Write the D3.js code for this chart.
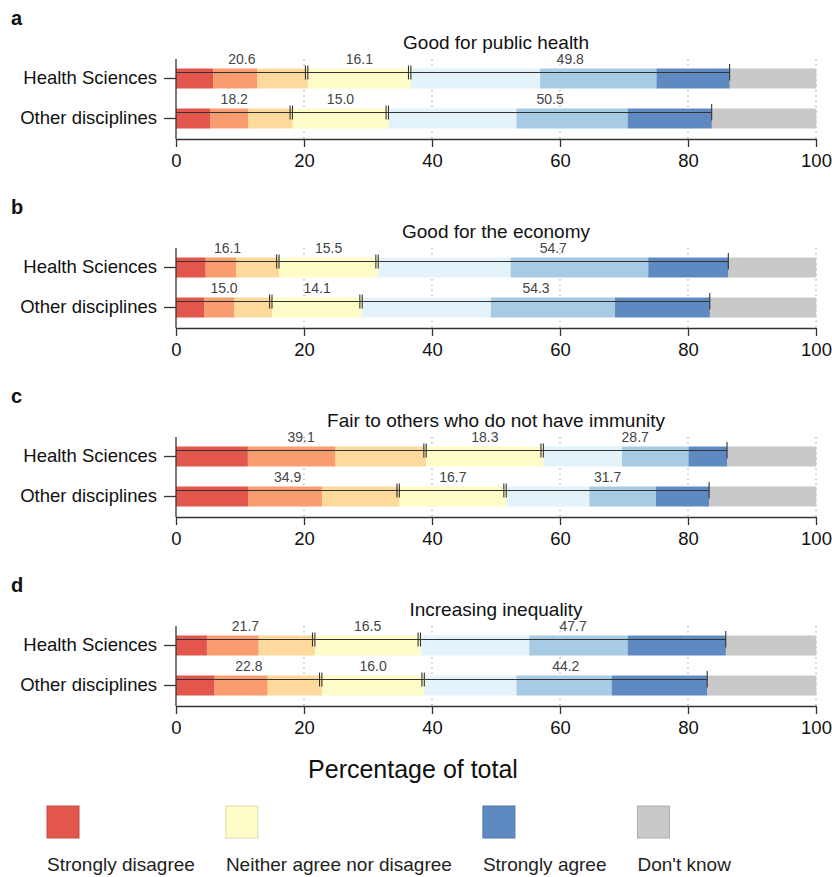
<!DOCTYPE html>
<html>
<head>
<meta charset="utf-8">
<script src="https://cdn.jsdelivr.net/npm/d3@7"></script>
<style>
  body { margin: 0; background: #fff; }
  svg { font-family: "Liberation Sans", Arial, sans-serif; }
</style>
</head>
<body>
<div id="chart"></div>
<script>
// survey answers, percent of respondents
var groups = ["Health Sciences", "Other disciplines"];
var letters = ["a", "b", "c", "d"];
var titles = ["Good for public health", "Good for the economy",
              "Fair to others who do not have immunity", "Increasing inequality"];
var answers = ["Strongly disagree", "Disagree", "Somewhat disagree", "Neither agree nor disagree",
               "Somewhat agree", "Agree", "Strongly agree", "Don't know"];
var colours = ["#e2564c", "#f99d70", "#fdd99b", "#fefcc8", "#e4f2f9", "#a7cbe2", "#5e89c1", "#c9c9c9"];

// one row per group: the 8 answers in order
var publicHealth = [[5.8, 6.9, 7.9, 16.1, 20.2, 18.2, 11.4, 13.5],
                    [5.3, 6.0, 6.9, 15.0, 20.0, 17.4, 13.1, 16.3]];
var economy      = [[4.6, 4.8, 6.7, 15.5, 20.7, 21.5, 12.5, 13.7],
                    [4.4, 4.7, 5.9, 14.1, 20.1, 19.4, 14.8, 16.6]];
var fairness     = [[11.2, 13.7, 14.2, 18.3, 12.3, 10.4, 6.0, 13.9],
                    [11.3, 11.5, 12.1, 16.7, 13.0, 10.4, 8.3, 16.7]];
var inequality   = [[4.8, 8.1, 8.8, 16.5, 17.0, 15.4, 15.3, 14.1],
                    [6.0, 8.3, 8.5, 16.0, 14.4, 14.9, 14.9, 17.0]];
var panelData = [publicHealth, economy, fairness, inequality];

var xTicks = [0, 20, 40, 60, 80, 100];
var legendKeys = ["Strongly disagree", "Neither agree nor disagree", "Strongly agree", "Don't know"];

var w = 832, h = 877;
var panelStep = 189;
var ink = "#333";

var svg = d3.select("#chart").append("svg")
   .attr("width", w)
   .attr("height", h);

var x = d3.scaleLinear().domain([0, 100]).range([176, 816]);
var y = d3.scaleBand().domain(groups).range([58.5, 138.5]).paddingInner(0.5).paddingOuter(0.25);

function r1(v) { return Math.round(v * 10) / 10; }

panelData.forEach(function(rows, p) {
  var g = svg.append("g").attr("transform", "translate(0," + (p * panelStep) + ")");

  g.append("text")
    .attr("x", 11).attr("y", 25)
    .attr("font-size", "20px").attr("font-weight", "bold").attr("fill", "#111")
    .text(letters[p]);

  g.append("text")
    .attr("x", x(50)).attr("y", 48.5)
    .attr("text-anchor", "middle").attr("font-size", "19px").attr("fill", "#111")
    .text(titles[p]);

  // dotted grid
  g.selectAll("line.grid")
    .data(xTicks.slice(1))
    .enter().append("line")
    .attr("class", "grid")
    .attr("x1", function(d) { return x(d); })
    .attr("x2", function(d) { return x(d); })
    .attr("y1", 59).attr("y2", 139)
    .attr("stroke", "#9a9a9a").attr("stroke-width", 1.2)
    .attr("stroke-dasharray", "1.2,4");

  rows.forEach(function(vals, gi) {
    var ends = d3.cumsum(vals);
    var segs = vals.map(function(v, i) { return { start: ends[i] - v, end: ends[i], i: i }; });
    var top = y(groups[gi]);
    var bw = y.bandwidth();

    g.selectAll("rect.s" + gi)
      .data(segs)
      .enter().append("rect")
      .attr("class", "s" + gi)
      .attr("x", function(d) { return x(d.start); })
      .attr("y", top)
      .attr("width", function(d) { return x(d.end) - x(d.start) + 0.3; })
      .attr("height", bw)
      .attr("fill", function(d) { return colours[d.i]; });

    var dis = r1(ends[2]), neu = r1(ends[3]), agr = r1(ends[6]);
    var sums = [
      { v: r1(vals[0] + vals[1] + vals[2]), from: 0, to: dis },
      { v: r1(vals[3]), from: dis, to: neu },
      { v: r1(vals[4] + vals[5] + vals[6]), from: neu, to: agr }
    ];
    var ly = top + 4;

    g.append("line")
      .attr("x1", x(0)).attr("x2", x(agr))
      .attr("y1", ly).attr("y2", ly)
      .attr("stroke", ink).attr("stroke-width", 1.2);

    // double marks at the disagree and neutral ends, single at the agree end
    [dis, neu].forEach(function(v) {
      [-2.4, 0].forEach(function(o) {
        g.append("line")
          .attr("x1", x(v) + o).attr("x2", x(v) + o)
          .attr("y1", ly - 7).attr("y2", ly + 7)
          .attr("stroke", ink).attr("stroke-width", 1.1);
      });
    });
    g.append("line")
      .attr("x1", x(agr)).attr("x2", x(agr))
      .attr("y1", ly - 8.5).attr("y2", ly + 8)
      .attr("stroke", ink).attr("stroke-width", 1.1);

    g.selectAll("text.v" + gi)
      .data(sums)
      .enter().append("text")
      .attr("class", "v" + gi)
      .attr("x", function(d) { return x((d.from + d.to) / 2); })
      .attr("y", top - 4.5)
      .attr("text-anchor", "middle")
      .attr("font-size", "14px")
      .attr("fill", "#444")
      .text(function(d) { return d.v.toFixed(1); });
  });

  var xAxis = g.append("g")
    .attr("transform", "translate(0,139)")
    .call(d3.axisBottom(x).tickValues(xTicks).tickSize(8).tickSizeOuter(0).tickPadding(7));
  xAxis.selectAll("text").attr("font-size", "18.5px").attr("fill", "#111").attr("font-family", null);
  xAxis.selectAll("line, path").attr("stroke", ink).attr("stroke-width", 1.3);

  var yAxis = g.append("g")
    .attr("transform", "translate(176,0)")
    .call(d3.axisLeft(y).tickSize(12).tickSizeOuter(0).tickPadding(7));
  yAxis.select("path").attr("d", "M0,59V139");
  yAxis.selectAll("text").attr("font-size", "18.5px").attr("fill", "#111").attr("font-family", null);
  yAxis.selectAll("line, path").attr("stroke", ink).attr("stroke-width", 1.3);
});

svg.append("text")
  .attr("x", 413).attr("y", 778)
  .attr("text-anchor", "middle")
  .attr("font-size", "25px").attr("fill", "#111")
  .text("Percentage of total");

// legend, laid out left to right
var lx = 47;
legendKeys.forEach(function(k) {
  var c = colours[answers.indexOf(k)];
  svg.append("rect")
    .attr("x", lx).attr("y", 806)
    .attr("width", 32).attr("height", 32)
    .attr("fill", c)
    .attr("stroke", d3.color(c).darker(0.4))
    .attr("stroke-width", 1);
  var t = svg.append("text")
    .attr("x", lx).attr("y", 871)
    .attr("font-size", "19px").attr("fill", "#222")
    .text(k);
  lx += t.node().getComputedTextLength() + 31;
});
</script>
</body>
</html>
